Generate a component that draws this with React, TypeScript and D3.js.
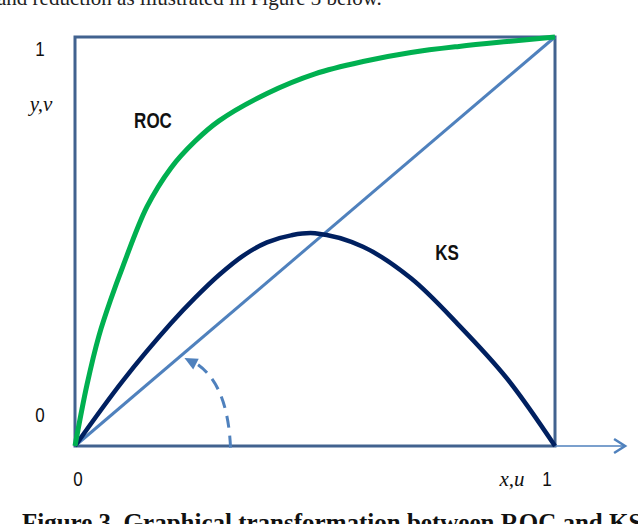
import React from "react";
import * as d3 from "d3";

// curve samples (u in [0,1], v in [0,1])
const rocU = [0, 0.025, 0.05, 0.075, 0.1, 0.15, 0.2, 0.25, 0.3, 0.4, 0.5, 0.6, 0.7, 0.8, 0.9, 1];
const rocV = [0, 0.15, 0.27, 0.36, 0.44, 0.585, 0.68, 0.745, 0.795, 0.862, 0.91, 0.94, 0.962, 0.977, 0.989, 1];
const ksU = [0, 0.1, 0.2, 0.25, 0.3, 0.35, 0.4, 0.45, 0.5, 0.6, 0.7, 0.8, 0.9, 1];
const ksV = [0, 0.16, 0.3, 0.362, 0.418, 0.465, 0.498, 0.515, 0.52, 0.487, 0.41, 0.295, 0.165, 0];
const diagonal = [0, 1];
const tickLabels = ["0", "1"];
// dashed rotation arrow: start, control, end, tip
const arcPts: [number, number][] = [[0.324, -0.004], [0.318, 0.16], [0.245, 0.207], [0.228, 0.215]];

const W = 638;
const H = 524;

export default function App() {
  const x = d3.scaleLinear().domain([0, 1]).range([75, 555]);
  const y = d3.scaleLinear().domain([0, 1]).range([446, 37]);

  const line = d3
    .line<[number, number]>()
    .x((d) => x(d[0]))
    .y((d) => y(d[1]))
    .curve(d3.curveCatmullRom.alpha(0.5));

  const roc = line(rocU.map((u, i) => [u, rocV[i]]) as [number, number][]);
  const ks = line(ksU.map((u, i) => [u, ksV[i]]) as [number, number][]);

  // dashed arc
  const [s, c, e, t] = arcPts.map((p) => [x(p[0]), y(p[1])]);
  const p = d3.path();
  p.moveTo(s[0], s[1]);
  p.quadraticCurveTo(c[0], c[1], e[0], e[1]);
  const ang = Math.atan2(t[1] - c[1], t[0] - c[0]);
  const hl = 13;
  const hw = 6;
  const bx = t[0] - hl * Math.cos(ang);
  const by = t[1] - hl * Math.sin(ang);
  const head = `M${t[0]},${t[1]}L${bx + hw * Math.sin(ang)},${by - hw * Math.cos(ang)}L${bx - hw * Math.sin(ang)},${by + hw * Math.cos(ang)}Z`;

  // axis arrow extension
  const axEnd = x(1.146);
  const sans = "'Liberation Sans', Arial, sans-serif";
  const serif = "'Liberation Serif', 'Times New Roman', serif";

  const label = (tx: number, ty: number, txt: string, size: number, bold: boolean, sy = 1.2) => (
    <text
      transform={`translate(${tx},${ty}) scale(1,${sy})`}
      fontFamily={sans}
      fontSize={size}
      fontWeight={bold ? "bold" : "normal"}
      textAnchor="middle"
      fill="#111"
    >
      {txt}
    </text>
  );

  return (
    <svg width={W} height={H} style={{ position: "absolute", left: 0, top: 0, background: "#fff" }}>
      <text x={-3} y={5} fontFamily={serif} fontSize={21} fill="#222">
        and reduction as illustrated in Figure 3 below.
      </text>

      {/* frame */}
      <rect
        x={x(0)}
        y={y(1)}
        width={x(1) - x(0)}
        height={y(0) - y(1)}
        fill="none"
        stroke="#41628f"
        strokeWidth={3}
      />
      <line x1={x(1)} x2={axEnd} y1={y(0)} y2={y(0)} stroke="#4f81bd" strokeWidth={1.5} />
      <path
        d={`M${axEnd - 11},${y(0) - 7}L${axEnd},${y(0)}L${axEnd - 11},${y(0) + 7}`}
        fill="none"
        stroke="#4f81bd"
        strokeWidth={2.5}
      />

      {/* diagonal */}
      <line
        x1={x(diagonal[0])}
        y1={y(diagonal[0])}
        x2={x(diagonal[1])}
        y2={y(diagonal[1])}
        stroke="#4f81bd"
        strokeWidth={3}
      />
      <path d={ks ?? ""} fill="none" stroke="#002060" strokeWidth={4.5} />
      <path d={roc ?? ""} fill="none" stroke="#00b050" strokeWidth={5} />

      <path d={p.toString()} fill="none" stroke="#4f81bd" strokeWidth={3} strokeDasharray="12,8" />
      <path d={head} fill="#4f81bd" />

      {/* labels */}
      {label(40, 56, tickLabels[1], 17, false, 1.15)}
      {label(40, 422, tickLabels[0], 17, false, 1.15)}
      {label(78, 486, tickLabels[0], 17, false, 1.15)}
      {label(547, 486, tickLabels[1], 17, false, 1.15)}
      {label(153, 128, "ROC", 17, true, 1.3)}
      {label(447, 260, "KS", 17, true, 1.25)}
      <text x={41} y={111} fontFamily={serif} fontStyle="italic" fontSize={21} textAnchor="middle" fill="#111">
        y,v
      </text>
      <text x={512} y={486} fontFamily={serif} fontStyle="italic" fontSize={21} textAnchor="middle" fill="#111">
        x,u
      </text>

      <text x={22} y={531} fontFamily={serif} fontWeight="bold" fontSize={25} fill="#111">
        Figure 3. Graphical transformation between ROC and KS
      </text>
    </svg>
  );
}
